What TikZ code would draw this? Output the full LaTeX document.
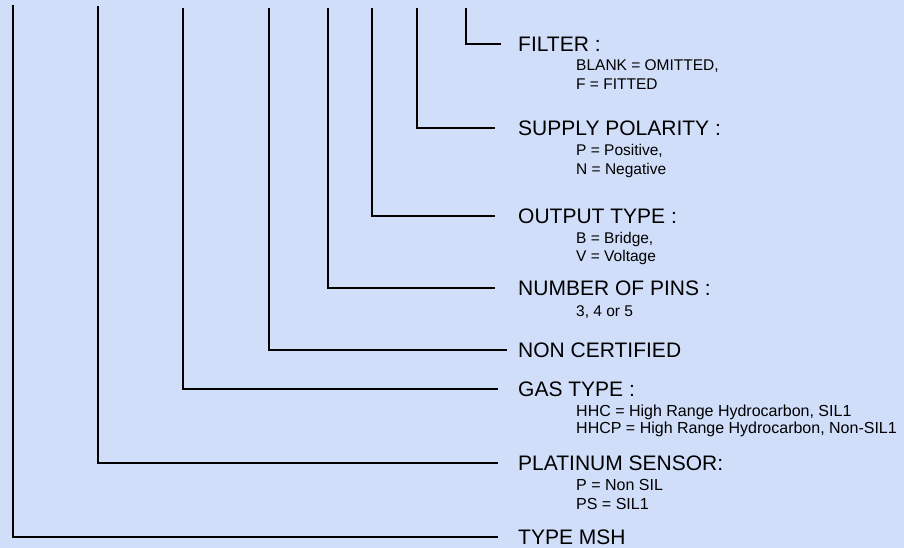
\documentclass[tikz,border=0pt]{standalone}
\usepackage{fontspec}
\setmainfont{Liberation Sans}
\definecolor{panelblue}{HTML}{D0DEF9}

\begin{document}
\begin{tikzpicture}[x=1pt,y=-1pt,
  lbl/.style={anchor=west,inner sep=0pt,font=\fontsize{21}{24}\selectfont},
  sub/.style={anchor=north west,inner sep=0pt,align=left,font=\fontsize{15.5}{19}\selectfont},
  lead/.style={line width=1.8pt}]
  \fill[panelblue] (0,0) rectangle (904,548);
  % tops of the code leads, left to right
  \foreach \n/\x/\t in {msh/13/5,sensor/98/6,gas/183/8,noncert/269/8,pins/328/8,output/372/8,polarity/417/8,filter/466/8}
    \coordinate (top-\n) at (\x,\t);
  \node[lbl] (filter) at (518,44) {FILTER :};
  \node[sub] (filter-sub) at (576,59.5) {BLANK = OMITTED,\\F = FITTED};
  \node[lbl] (polarity) at (518,128) {SUPPLY POLARITY :};
  \node[sub] (polarity-sub) at (576,144.5) {P = Positive,\\N = Negative};
  \node[lbl] (output) at (518,216) {OUTPUT TYPE :};
  \node[sub,font=\fontsize{15.5}{18}\selectfont] (output-sub) at (576,232.5) {B = Bridge,\\V = Voltage};
  \node[lbl] (pins) at (518,288) {NUMBER OF PINS :};
  \node[sub] (pins-sub) at (576,305.5) {3, 4 or 5};
  \node[lbl] (noncert) at (518,350) {NON CERTIFIED};
  \node[lbl] (gas) at (518,389) {GAS TYPE :};
  \node[sub,font=\fontsize{16}{17}\selectfont] (gas-sub) at (576,404.5) {HHC = High Range Hydrocarbon, SIL1\\HHCP = High Range Hydrocarbon, Non-SIL1};
  \node[lbl] (sensor) at (518,463) {PLATINUM SENSOR:};
  \node[sub,font=\fontsize{16}{19}\selectfont] (sensor-sub) at (576,479.3) {P = Non SIL\\PS = SIL1};
  \node[lbl] (msh) at (518,537) {TYPE MSH};
  % leads
  \foreach \n/\d in {filter/17,polarity/23,output/23,pins/23,noncert/11,gas/20,sensor/20,msh/20}
    \draw[lead] (top-\n) |- ([xshift=-\d pt]\n.west);
\end{tikzpicture}
\end{document}
